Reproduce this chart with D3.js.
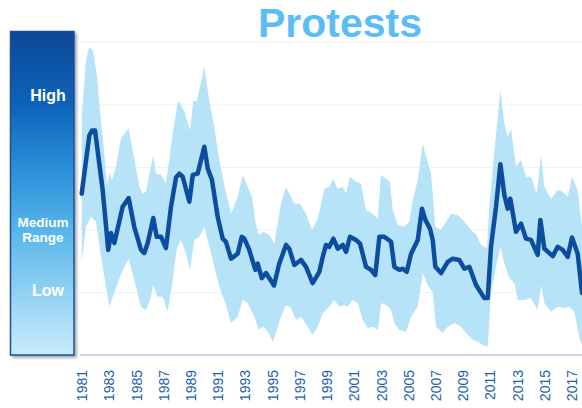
<!DOCTYPE html>
<html>
<head>
<meta charset="utf-8">
<script src="https://cdn.jsdelivr.net/npm/d3@7"></script>
<style>
  html, body { margin: 0; padding: 0; background: #ffffff; }
  svg { display: block; font-family: "Liberation Sans", Arial, Helvetica, sans-serif; }
</style>
</head>
<body>
<svg id="chart" width="582" height="408"></svg>
<script>
// ---------------- data ----------------
const chartTitle = "Protests";
const tickYears = [1981,1983,1985,1987,1989,1991,1993,1995,1997,1999,2001,2003,2005,2007,2009,2011,2013,2015,2017];
const gridValues = [1, 2, 3, 4, 5];
const mediumLevel = 1.8;
const levelNames = ["High", "Medium", "Range", "Low"];
const levelValues = [4.06, 2.05, 1.8, 0.95];

const lineYears = [1981.0,1981.56,1981.76,1981.98,1982.54,1982.95,1983.15,1983.40,1984.01,1984.45,1984.86,1985.36,1985.60,1985.85,1986.26,1986.51,1986.83,1987.19,1987.56,1987.93,1988.17,1988.42,1988.91,1989.16,1989.52,1990.01,1990.26,1990.57,1990.99,1991.36,1991.60,1991.97,1992.46,1992.76,1992.95,1993.31,1993.76,1993.93,1994.23,1994.54,1995.13,1995.50,1996.01,1996.25,1996.62,1997.11,1997.48,1997.97,1998.46,1998.71,1998.95,1999.19,1999.49,1999.81,2000.18,2000.42,2000.71,2001.15,2001.45,2001.89,2002.26,2002.57,2002.87,2003.23,2003.73,2003.97,2004.34,2004.59,2004.88,2005.20,2005.69,2006.00,2006.25,2006.59,2006.79,2006.98,2007.40,2007.89,2008.26,2008.74,2009.11,2009.48,2009.97,2010.58,2010.83,2011.07,2011.44,2011.76,2012.05,2012.30,2012.49,2012.91,2013.28,2013.64,2014.01,2014.50,2014.70,2014.99,2015.61,2015.97,2016.34,2016.71,2017.02,2017.44,2017.76];
const lineValues = [2.58,3.51,3.59,3.59,2.64,1.68,1.95,1.79,2.37,2.51,2.05,1.68,1.63,1.79,2.19,1.89,1.89,1.71,2.37,2.84,2.90,2.85,2.45,2.88,2.90,3.33,2.98,2.80,2.21,1.86,1.81,1.54,1.62,1.89,1.86,1.68,1.36,1.46,1.23,1.31,1.11,1.45,1.76,1.70,1.44,1.52,1.41,1.15,1.33,1.57,1.76,1.73,1.86,1.70,1.76,1.65,1.89,1.84,1.78,1.41,1.36,1.28,1.89,1.89,1.81,1.41,1.36,1.38,1.33,1.62,1.84,2.34,2.16,2.02,1.84,1.41,1.31,1.49,1.54,1.52,1.38,1.41,1.12,0.91,0.91,1.73,2.37,3.05,2.56,2.34,2.50,1.97,2.10,1.86,1.84,1.60,2.16,1.70,1.58,1.73,1.68,1.57,1.88,1.62,0.99];

const upperYears = [1981.0,1981.32,1981.54,1981.83,1982.12,1982.34,1982.64,1982.86,1983.03,1983.23,1983.52,1983.89,1984.45,1984.75,1985.23,1985.48,1985.72,1986.26,1986.46,1986.83,1987.19,1987.69,1988.04,1988.17,1988.54,1988.96,1989.20,1989.45,1990.01,1990.38,1990.74,1991.11,1991.55,1991.97,1992.46,1992.83,1993.20,1993.51,1993.76,1994.01,1994.34,1994.78,1995.15,1995.64,1996.01,1996.38,1996.62,1997.04,1997.48,1997.92,1998.34,1998.83,1999.19,1999.49,1999.81,2000.18,2000.42,2000.71,2001.15,2001.52,2001.89,2002.38,2002.75,2002.99,2003.36,2003.65,2003.85,2004.22,2004.70,2005.07,2005.32,2005.69,2006.06,2006.30,2006.67,2006.98,2007.40,2007.77,2008.13,2008.63,2009.11,2009.60,2009.97,2010.34,2010.78,2010.95,2011.32,2011.76,2012.05,2012.30,2012.54,2012.91,2013.28,2013.64,2014.01,2014.43,2014.75,2014.99,2015.48,2015.97,2016.34,2016.71,2017.02,2017.44,2017.76];
const upperValues = [3.83,4.71,4.92,4.87,4.47,3.91,3.27,2.72,2.91,2.80,3.01,3.47,3.62,3.27,2.69,2.58,2.61,3.19,2.90,2.88,2.74,3.54,4.03,4.05,3.89,3.59,4.07,4.05,4.61,4.05,3.65,3.12,2.64,2.26,2.53,2.88,2.69,2.53,2.13,1.92,1.97,1.92,1.78,2.42,2.69,2.53,2.42,2.42,2.26,2.00,2.18,2.66,2.69,2.82,2.66,2.69,2.58,2.85,2.77,2.74,2.32,2.26,2.18,2.88,2.82,2.77,2.32,2.08,2.05,2.13,2.48,2.80,3.38,3.17,2.90,2.05,2.00,2.13,2.26,2.24,2.13,2.00,1.93,1.76,1.71,2.37,3.27,4.23,3.70,3.49,3.62,3.01,3.12,2.85,2.85,2.58,3.19,2.69,2.50,2.64,2.61,2.53,2.85,2.64,2.05];

const lowerYears = [1981.0,1981.32,1981.68,1982.05,1982.42,1982.79,1983.03,1983.28,1983.65,1984.01,1984.45,1984.86,1985.36,1985.72,1986.02,1986.26,1986.58,1986.95,1987.32,1987.69,1988.00,1988.30,1988.66,1988.96,1989.27,1989.64,1990.01,1990.38,1990.74,1991.11,1991.55,1991.97,1992.46,1992.83,1993.20,1993.68,1994.01,1994.34,1994.74,1995.03,1995.28,1995.64,1996.01,1996.38,1996.75,1997.11,1997.61,1997.97,1998.34,1998.71,1999.19,1999.56,1999.93,2000.29,2000.54,2000.86,2001.28,2001.65,2002.01,2002.38,2002.77,2002.99,2003.36,2003.73,2003.97,2004.34,2004.83,2005.20,2005.69,2006.06,2006.42,2006.79,2007.03,2007.52,2007.89,2008.38,2008.87,2009.24,2009.73,2010.12,2010.46,2010.83,2011.07,2011.44,2011.76,2012.05,2012.42,2012.79,2013.04,2013.52,2014.01,2014.50,2014.75,2014.99,2015.48,2015.97,2016.46,2016.83,2017.19,2017.61,2017.76];
const lowerValues = [1.49,2.05,2.21,2.13,1.57,1.09,0.77,0.93,1.15,1.36,1.54,1.20,0.77,0.72,0.88,1.12,0.93,0.93,0.69,1.20,1.72,1.84,1.62,1.36,1.84,1.89,2.05,1.73,1.41,1.09,0.83,0.51,0.61,0.88,0.83,0.61,0.40,0.45,0.35,0.21,0.35,0.61,0.80,0.75,0.56,0.61,0.45,0.32,0.45,0.67,0.77,0.88,0.77,0.80,0.77,0.88,0.83,0.56,0.43,0.45,0.40,0.83,0.80,0.72,0.51,0.40,0.37,0.61,0.77,1.31,1.12,0.99,0.45,0.35,0.45,0.51,0.45,0.35,0.24,0.21,0.16,0.13,0.99,1.41,1.73,1.46,1.23,1.15,0.88,0.88,0.91,0.72,1.12,0.83,0.69,0.77,0.75,0.77,0.69,0.24,0.16];

// ---------------- drawing ----------------
const svg = d3.select("#chart");
const x = d3.scaleLinear().domain([1981, 2017]).range([81.7, 571.7]);
const y = d3.scaleLinear().domain([0, 5]).range([355, 42.3]);
const plotLeft = 80, plotRight = 582;

const defs = svg.append("defs");
const grad = defs.append("linearGradient").attr("id", "boxGrad")
  .attr("x1", 0).attr("y1", 0).attr("x2", 0).attr("y2", 1);
[["0%", "#0a4896"], ["22%", "#0b62b8"], ["45%", "#2f94dc"], ["62%", "#58b6ea"], ["80%", "#8fd0f3"], ["100%", "#c9ebfb"]]
  .forEach(([o, c]) => grad.append("stop").attr("offset", o).attr("stop-color", c));
const shadow = defs.append("filter").attr("id", "shadow").attr("x", "-20%").attr("y", "-20%").attr("width", "140%").attr("height", "160%");
shadow.append("feDropShadow").attr("dx", 0).attr("dy", 2.5).attr("stdDeviation", 1.5)
  .attr("flood-color", "#000").attr("flood-opacity", 0.3);
const boxShadow = defs.append("filter").attr("id", "boxShadow").attr("x", "-20%").attr("y", "-10%").attr("width", "150%").attr("height", "120%");
boxShadow.append("feDropShadow").attr("dx", 2).attr("dy", 2).attr("stdDeviation", 1.5)
  .attr("flood-color", "#000").attr("flood-opacity", 0.35);

// grid lines
svg.append("g").selectAll("line").data(gridValues).join("line")
  .attr("x1", plotLeft).attr("x2", plotRight)
  .attr("y1", d => y(d)).attr("y2", d => y(d))
  .attr("stroke", "#eef0f4").attr("stroke-width", 1);

// band (upper path then lower path reversed)
const bandPts = upperYears.map((t, i) => [t, upperValues[i]])
  .concat(lowerYears.map((t, i) => [t, lowerValues[i]]).reverse());
svg.append("path")
  .attr("d", d3.line().x(d => x(d[0])).y(d => y(d[1]))(bandPts) + "Z")
  .attr("fill", "#b6e3f7");

// medium dotted reference line
svg.append("line")
  .attr("x1", plotLeft).attr("x2", plotRight)
  .attr("y1", y(mediumLevel)).attr("y2", y(mediumLevel))
  .attr("stroke", "#1b9be6").attr("stroke-width", 3)
  .attr("stroke-dasharray", "3.2,2.6")
  .attr("filter", "url(#shadow)");

// main line
const linePts = lineYears.map((t, i) => [t, lineValues[i]]);
svg.append("path")
  .attr("d", d3.line().x(d => x(d[0])).y(d => y(d[1]))(linePts))
  .attr("fill", "none").attr("stroke", "#0c4d9f")
  .attr("stroke-width", 4.5).attr("stroke-linejoin", "round").attr("stroke-linecap", "round");

// x axis
const xAxis = d3.axisBottom(x).tickValues(tickYears).tickFormat(d3.format("d")).tickSize(0).tickPadding(0);
const gx = svg.append("g").attr("transform", "translate(0,355)").call(xAxis);
gx.select(".domain").remove();
gx.append("line").attr("x1", plotLeft).attr("x2", plotRight).attr("y1", 0).attr("y2", 0)
  .attr("stroke", "#bcc6de").attr("stroke-width", 1.5);
gx.selectAll(".tick text")
  .attr("transform", "translate(0,15) rotate(-90)")
  .attr("text-anchor", "end").attr("x", 0).attr("y", 0).attr("dy", "0.35em")
  .attr("fill", "#1d5eae").attr("font-size", 14)
  .attr("font-family", "'Liberation Sans', Arial, sans-serif");

// left gradient box
svg.append("rect").attr("x", 10.5).attr("y", 31.5).attr("width", 63.5).attr("height", 323.5)
  .attr("fill", "url(#boxGrad)").attr("stroke", "#1e4f9a").attr("stroke-width", 1.5)
  .attr("filter", "url(#boxShadow)");
const levelText = svg.append("g").attr("fill", "#ffffff").attr("font-weight", "bold").attr("text-anchor", "middle");
levelNames.forEach((name, i) => {
  const big = name === "High" || name === "Low";
  levelText.append("text")
    .attr("x", big ? 48 : 43)
    .attr("y", y(levelValues[i]))
    .attr("font-size", big ? 16 : 13.5)
    .text(name);
});

// title
svg.append("text").attr("x", 340).attr("y", 37).attr("text-anchor", "middle")
  .attr("font-size", 41).attr("font-weight", "bold").attr("fill", "#5bbdf6")
  .text(chartTitle);
</script>
</body>
</html>
